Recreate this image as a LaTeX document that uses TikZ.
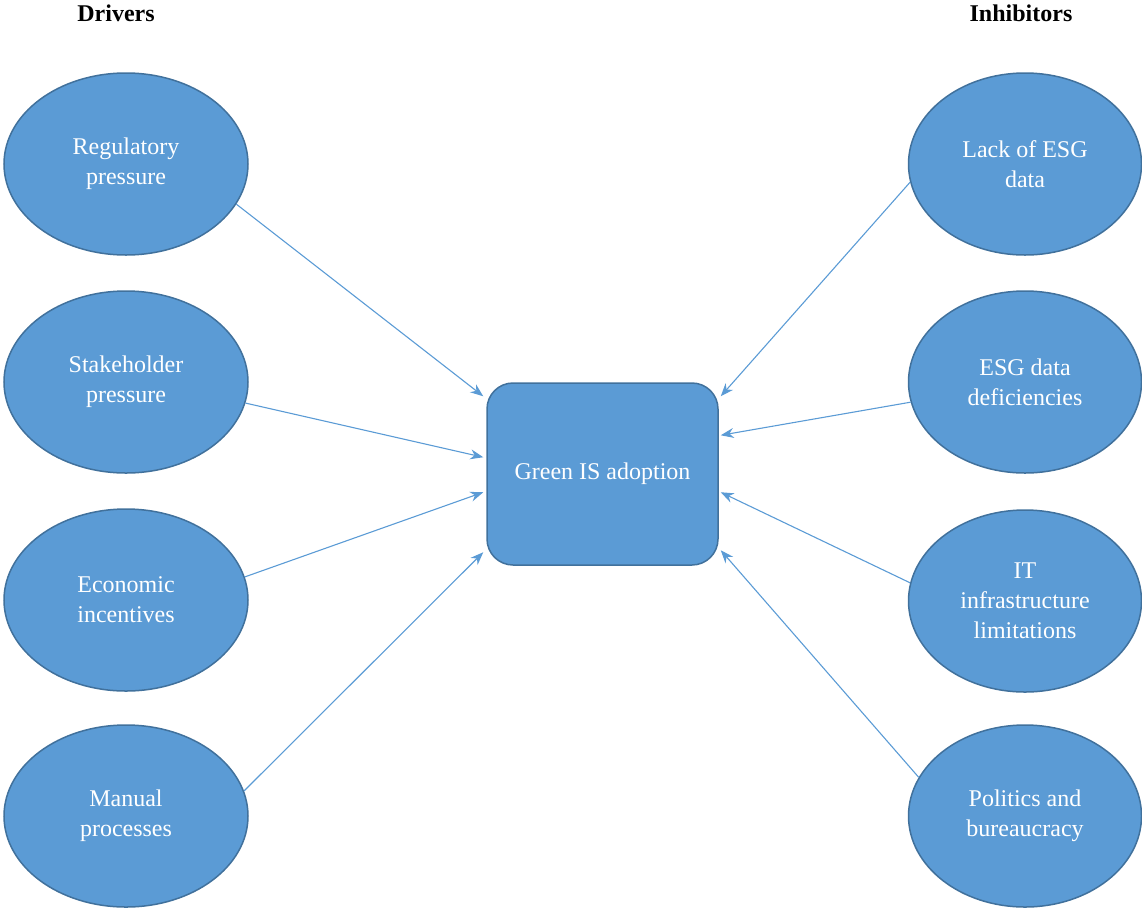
\documentclass[tikz,border=0pt]{standalone}
\usepackage{fontspec}
\setmainfont{Liberation Serif}
\usetikzlibrary{shapes.geometric,arrows.meta,calc}
\definecolor{fillblue}{HTML}{5B9BD5}
\definecolor{edgeblue}{HTML}{41719C}
\tikzset{
  oval/.style={ellipse, draw=edgeblue, fill=fillblue, line width=1.5pt, minimum width=244pt, minimum height=182pt, inner sep=0pt, text=white, align=center, font=\fontsize{24}{30}\selectfont},
  hub/.style={rectangle, rounded corners=26pt, draw=edgeblue, fill=fillblue, line width=1.5pt, minimum width=231pt, minimum height=182pt, inner sep=0pt, text=white, font=\fontsize{24}{30}\selectfont},
  arr/.style={draw=fillblue, line width=1.1pt, -{Stealth[length=13pt,width=10pt]}},
  head/.style={font=\bfseries\fontsize{24}{30}\selectfont}
}
\begin{document}
\begin{tikzpicture}[x=1pt,y=-1pt]
\useasboundingbox (0,0) rectangle (1142,908);
\node[head] (hd) at (116,13) {Drivers};
\node[head] (hi) at (1021,13) {Inhibitors};
\node[oval] (l1) at (126,164) {Regulatory\\pressure};
\node[oval] (l2) at (126,382) {Stakeholder\\pressure};
\node[oval] (l3) at (126,600) {Economic\\incentives};
\node[oval] (l4) at (126,816) {Manual\\processes};
\node[oval, minimum width=233pt] (r1) at (1025,164) {Lack of ESG\\data};
\node[oval, minimum width=233pt] (r2) at (1025,382) {ESG data\\deficiencies};
\node[oval, minimum width=233pt] (r3) at (1025,601) {IT\\infrastructure\\limitations};
\node[oval, minimum width=233pt] (r4) at (1025,816) {Politics and\\bureaucracy};
\node[hub] (g) at (602.5,474) {Green IS adoption};
\coordinate (a1) at ($(g.north west)+(-3,14)$);
\coordinate (a2) at ($(g.north west)+(-3,75)$);
\coordinate (a3) at ($(g.north west)+(-3,110)$);
\coordinate (a4) at ($(g.north west)+(-3,170)$);
\coordinate (b1) at ($(g.north east)+(2,14)$);
\coordinate (b2) at ($(g.north east)+(2,53)$);
\coordinate (b3) at ($(g.north east)+(2,110)$);
\coordinate (b4) at ($(g.north east)+(2,168)$);
\draw[arr] (l1.-20) -- (a1);
\draw[arr] (l2.-10) -- (a2);
\draw[arr] (l3.11) -- (a3);
\draw[arr] (l4.12) -- (a4);
\draw[arr] (r1.189.5) -- (b1);
\draw[arr] (r2.190.5) -- (b2);
\draw[arr] (r3.171) -- (b3);
\draw[arr] (r4.160) -- (b4);
\end{tikzpicture}
\end{document}
